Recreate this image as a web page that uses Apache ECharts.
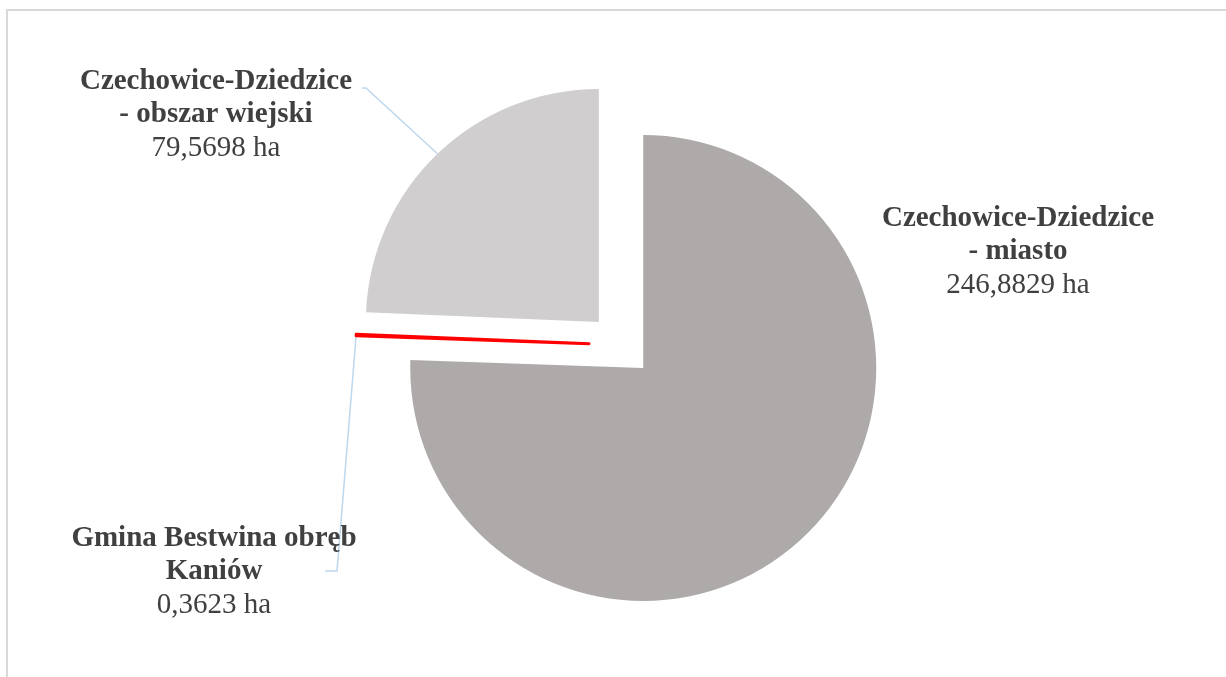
<!DOCTYPE html>
<html>
<head>
<meta charset="utf-8">
<script src="https://cdn.jsdelivr.net/npm/echarts@6/dist/echarts.min.js"></script>
<style>
  html, body { margin: 0; padding: 0; background: #fff; }
  #chart { width: 1226px; height: 677px; }
</style>
</head>
<body>
<div id="chart"></div>
<script>
'use strict';

// --- data
var names = ['Czechowice-Dziedzice\n- miasto', 'Gmina Bestwina obręb\nKaniów', 'Czechowice-Dziedzice\n- obszar wiejski'];
var values = [246.8829, 0.3623, 79.5698];
var colors = ['#AEAAAA', '#FF0000', '#D0CECE'];

// layout (px)
var pieCenter = [621, 345];
var pieRadius = 233;
var explode = 32;
var labelPos = [[1018, 252], [214, 572], [216, 115]];
var leaderBends = [null, [[337, 571], [325, 571]], [[366, 88], [362, 88]]];

function fmt(v) {
  return v.toFixed(4).replace('.', ',') + ' ha';
}

var total = values.reduce(function (a, b) { return a + b; }, 0);

// mid angle of each slice (clockwise from 12 o'clock) -> exploded centre
function sliceCentre(k) {
  var before = 0;
  for (var i = 0; i < k; i++) before += values[i];
  var mid = (before + values[k] / 2) / total * 2 * Math.PI;
  return [pieCenter[0] + explode * Math.sin(mid), pieCenter[1] - explode * Math.cos(mid)];
}

var myChart = echarts.init(document.getElementById('chart'));

// one series per slice, so each slice can be pulled out on its own
var series = names.map(function (nm, k) {
  return {
    type: 'pie',
    center: sliceCentre(k),
    radius: pieRadius,
    startAngle: 90,
    clockwise: true,
    avoidLabelOverlap: false,
    emphasis: { disabled: true },
    label: {
      show: true,
      position: 'outside',
      align: 'center',
      color: '#404040',
      fontFamily: 'Liberation Serif',
      formatter: function (p) {
        var lines = p.name.split('\n').map(function (l) { return '{b|' + l + '}'; });
        return lines.join('\n') + '\n{v|' + fmt(p.value) + '}';
      },
      rich: {
        b: { fontFamily: 'Liberation Serif', fontWeight: 'bold', fontSize: 29, lineHeight: 33, color: '#404040', align: 'center' },
        v: { fontFamily: 'Liberation Serif', fontSize: 29, lineHeight: 33, color: '#404040', align: 'center' }
      }
    },
    labelLine: {
      show: true,
      length: 20,
      length2: 10,
      lineStyle: { color: '#BDD7EE', width: 1.5 }
    },
    labelLayout: function (params) {
      var i = params.dataIndex;
      var res = {
        x: labelPos[i][0],
        y: labelPos[i][1],
        align: 'center',
        verticalAlign: 'middle'
      };
      if (leaderBends[i] && params.labelLinePoints) {
        res.labelLinePoints = [params.labelLinePoints[0]].concat(leaderBends[i]);
      }
      return res;
    },
    data: names.map(function (n, i) {
      var on = i === k;
      return {
        name: n,
        value: values[i],
        itemStyle: {
          color: on ? colors[i] : 'rgba(0,0,0,0)',
          borderColor: on && i === 1 ? colors[i] : 'rgba(0,0,0,0)',
          borderWidth: on && i === 1 ? 3 : 0,
          borderJoin: 'round'
        },
        label: { show: on },
        labelLine: { show: on && leaderBends[i] !== null }
      };
    })
  };
});

var option = {
  animation: false,
  backgroundColor: '#ffffff',
  graphic: [{
    type: 'rect',
    shape: { x: 7, y: 10, width: 1240, height: 700 },
    style: { fill: 'none', stroke: '#d9d9d9', lineWidth: 2 },
    silent: true
  }],
  series: series
};

myChart.setOption(option);
</script>
</body>
</html>
